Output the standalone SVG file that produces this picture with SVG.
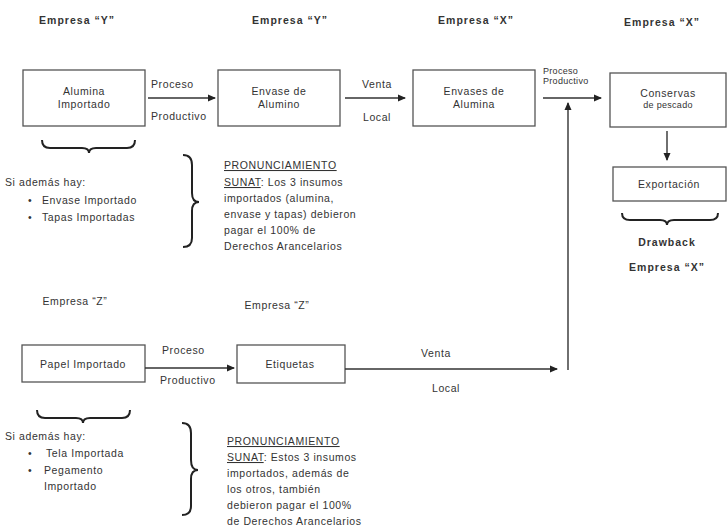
<svg xmlns="http://www.w3.org/2000/svg" width="727" height="528" viewBox="0 0 727 528">
<style>
text{font-family:"Liberation Sans",Arial,sans-serif;font-size:10.5px;letter-spacing:0.6px;fill:#333}
.h{font-weight:bold;font-size:10.5px;letter-spacing:1px}
.c{text-anchor:middle}
.s{font-size:9px;letter-spacing:0.3px}
.box{fill:#fff;stroke:#555;stroke-width:1.3}
.ln{stroke:#333;stroke-width:1.4;fill:none}
.br{stroke:#222;stroke-width:2;fill:none}
</style>
<defs>
<marker id="ah" markerWidth="8" markerHeight="8" refX="7" refY="4" orient="auto" markerUnits="userSpaceOnUse">
<path d="M0,0.5 L8,4 L0,7.5 z" fill="#222"/>
</marker>
</defs>
<rect width="727" height="528" fill="#fff"/>

<g id="headers">
<text class="h c" x="77" y="24">Empresa “Y”</text>
<text class="h c" x="290" y="24">Empresa “Y”</text>
<text class="h c" x="476" y="24">Empresa “X”</text>
<text class="h c" x="662" y="26">Empresa “X”</text>
<text class="c" x="75" y="305">Empresa “Z”</text>
<text class="c" x="277" y="309">Empresa “Z”</text>
</g>

<g id="n1"><rect class="box" x="23" y="70" width="122" height="56"/>
<text class="c" x="84" y="95">Alumina</text><text class="c" x="84" y="108">Importado</text></g>
<g id="n2"><rect class="box" x="218" y="70" width="122" height="56"/>
<text class="c" x="279" y="95">Envase de</text><text class="c" x="279" y="108">Alumino</text></g>
<g id="n3"><rect class="box" x="413" y="70" width="122" height="56"/>
<text class="c" x="474" y="95">Envases de</text><text class="c" x="474" y="108">Alumina</text></g>
<g id="n4"><rect class="box" x="610" y="73" width="116" height="54"/>
<text class="c" x="668" y="97">Conservas</text><text class="c s" x="668" y="108">de pescado</text></g>
<g id="n5"><rect class="box" x="613" y="167" width="113" height="34"/>
<text class="c" x="669" y="188">Exportación</text></g>
<g id="n6"><rect class="box" x="22" y="345" width="123" height="37"/>
<text class="c" x="83" y="368">Papel Importado</text></g>
<g id="n7"><rect class="box" x="237" y="345" width="108" height="38"/>
<text class="c" x="290" y="368">Etiquetas</text></g>

<g id="connectors">
<line class="ln" x1="148" y1="98" x2="215" y2="98" marker-end="url(#ah)"/>
<line class="ln" x1="345" y1="98" x2="405" y2="98" marker-end="url(#ah)"/>
<line class="ln" x1="543" y1="98" x2="601" y2="98" marker-end="url(#ah)"/>
<line class="ln" x1="568" y1="370" x2="568" y2="103" marker-end="url(#ah)"/>
<line class="ln" x1="667" y1="131" x2="667" y2="160" marker-end="url(#ah)"/>
<line class="ln" x1="145" y1="368" x2="234" y2="368" marker-end="url(#ah)"/>
<line class="ln" x1="345" y1="369" x2="557" y2="369" marker-end="url(#ah)"/>
</g>

<g id="labels">
<text x="151" y="88">Proceso</text>
<text x="151" y="120">Productivo</text>
<text class="c" x="377" y="88">Venta</text>
<text class="c" x="377" y="121">Local</text>
<text class="s" x="543" y="74">Proceso</text>
<text class="s" x="543" y="84">Productivo</text>
<text x="162" y="354">Proceso</text>
<text x="160" y="384">Productivo</text>
<text class="c" x="436" y="357">Venta</text>
<text class="c" x="446" y="392">Local</text>
</g>

<g id="braces">
<path class="br" d="M42,140 Q42,148 50,148 L82,148 Q89,148 89,153 Q89,148 96,148 L127,148 Q135,148 135,140"/>
<path class="br" d="M622,213 Q622,220 630,220 L660,220 Q667,220 667,225 Q667,220 674,220 L710,220 Q718,220 718,213"/>
<path class="br" d="M37,410 Q37,418 45,418 L76,418 Q83,418 83,423 Q83,418 90,418 L122,418 Q130,418 130,410"/>
<path class="br" d="M183,155 Q192,155 192,165 L192,193 Q192,202 199,202 Q192,202 192,211 L192,238 Q192,247 183,247"/>
<path class="br" d="M182,423 Q191,423 191,433 L191,460 Q191,470 198,470 Q191,470 191,479 L191,506 Q191,515 182,515"/>
</g>

<g id="notes">
<text x="5" y="186">Si además hay:</text>
<text x="28" y="204">•</text><text x="42" y="204">Envase Importado</text>
<text x="28" y="221">•</text><text x="42" y="221">Tapas Importadas</text>
<text x="224" y="169" text-decoration="underline">PRONUNCIAMIENTO</text>
<text x="224" y="186"><tspan text-decoration="underline">SUNAT</tspan>: Los 3 insumos</text>
<text x="224" y="202">importados (alumina,</text>
<text x="224" y="218">envase y tapas) debieron</text>
<text x="224" y="234">pagar el  100% de</text>
<text x="224" y="250">Derechos Arancelarios</text>
<text class="h c" x="667" y="246">Drawback</text>
<text class="h c" x="667" y="271">Empresa “X”</text>
<text x="5" y="440">Si además hay:</text>
<text x="28" y="457">•</text><text x="46" y="457">Tela Importada</text>
<text x="28" y="474">•</text><text x="44" y="474">Pegamento</text>
<text x="44" y="490">Importado</text>
<text x="227" y="445" text-decoration="underline">PRONUNCIAMIENTO</text>
<text x="227" y="461"><tspan text-decoration="underline">SUNAT</tspan>: Estos 3 insumos</text>
<text x="227" y="477">importados, además de</text>
<text x="227" y="493">los otros, también</text>
<text x="227" y="509">debieron pagar el  100%</text>
<text x="227" y="525">de Derechos Arancelarios</text>
</g>
</svg>
